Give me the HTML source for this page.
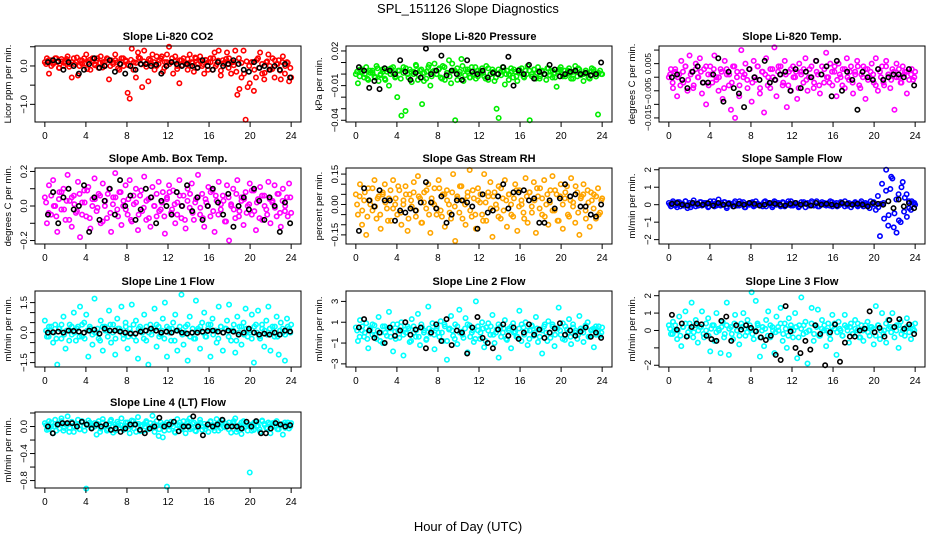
<!DOCTYPE html>
<html><head><meta charset="utf-8">
<style>
html,body{margin:0;padding:0;background:#fff;}
svg{display:block;font-family:"Liberation Sans",Arial,sans-serif;}
</style></head>
<body>
<svg id="c" width="936" height="540">
<text x="468" y="13" text-anchor="middle" font-size="13">SPL_151126  Slope Diagnostics</text>
<text x="468" y="531" text-anchor="middle" font-size="13">Hour of Day (UTC)</text>
</svg>
<script>
const xTicks = [0,4,8,12,16,20,24];
const titles = ["Slope Li-820 CO2","Slope Li-820 Pressure","Slope Li-820 Temp.","Slope Amb. Box Temp.","Slope Gas Stream RH","Slope Sample Flow","Slope Line 1 Flow","Slope Line 2 Flow","Slope Line 3 Flow","Slope Line 4 (LT) Flow"];
const yTitles = ["Licor ppm per min.","kPa per min.","degrees C per min.","degrees C per min.","percent per min.","ml/min per min.","ml/min per min.","ml/min per min.","ml/min per min.","ml/min per min."];
const colors = ["#ff0000","#00ee00","#ff00ff","#ff00ff","#ffa500","#0000ff","#00ffff","#00ffff","#00ffff","#00ffff"];
const yDomains = [[-1.46,0.52],[-0.0415,0.0243],[-0.0165,0.0115],[-0.22,0.22],[-0.195,0.18],[-2.25,2.1],[-1.72,2.08],[-3.3,4.0],[-2.1,2.27],[-0.91,0.215]];
const yTickVals = [[-1.5,-1,-0.5,0,0.5],[-0.04,-0.03,-0.02,-0.01,0,0.01,0.02],[-0.015,-0.01,-0.005,0,0.005,0.01],[-0.2,-0.1,0,0.1,0.2],[-0.15,-0.1,-0.05,0,0.05,0.1,0.15],[-2,-1,0,1,2],[-1.5,-1,-0.5,0,0.5,1,1.5],[-3,-1,1,3],[-2,-1,0,1,2],[-0.8,-0.6,-0.4,-0.2,0,0.2]];
const yTickLabels = [["","−1.0","","0.0",""],["−0.04","","","−0.01","","","0.02"],["−0.015","","−0.005","","0.005",""],["−0.2","","0.0","","0.2"],["−0.15","","","0.00","","","0.15"],["−2","−1","0","1","2"],["−1.5","","","0.0","","","1.5"],["−3","−1","1","3"],["−2","","0","1","2"],["−0.8","","−0.4","","0.0",""]];

const co2 = [0.1,0.2,-0.2,0.15,0.05,0.2,0.1,-0.05,0.18,0.0,0.12,0.25,0.05,-0.3,0.2,0.1,-0.25,0.15,0.05,0.2,0.3,0.1,-0.1,0.2,0.05,0.15,-0.05,0.25,0.1,0.0,0.2,-0.35,0.15,0.05,0.3,0.1,-0.1,0.2,0.0,0.15,-0.7,-0.85,0.45,0.1,-0.3,0.35,0.2,-0.55,0.4,0.05,-0.4,0.15,0.3,-0.1,0.25,0.05,0.2,-0.15,0.1,0.3,0.5,0.1,-0.2,0.25,0.0,-0.45,0.15,0.2,0.05,-0.1,0.3,0.1,-0.15,0.2,0.05,0.25,0.0,-0.2,0.15,0.1,0.2,-0.1,0.35,0.05,0.4,-0.25,0.15,0.1,0.35,0.2,-0.2,0.1,0.4,-0.75,-0.6,-0.3,0.4,-1.4,-0.55,-0.45,0.1,-0.65,-0.3,0.2,0.35,-0.2,-0.35,0.1,0.3,-0.1,0.2,-0.3,0.05,0.15,-0.35,0.25,-0.2,0.1,-0.4,-0.3];
const co2Band = [0.05,0.15,0.0,0.1,0.2,-0.05,0.12,0.08,0.18,-0.02,0.1,0.05,0.22,0.0,0.14,0.06,-0.08,0.16,0.1,0.02,0.2,0.08,-0.04,0.12,0.18,0.0,0.1,0.15,-0.06,0.05,0.2,0.12,0.02,0.16,-0.1,0.08,0.22,0.04,0.12,-0.02,0.18,0.06,0.1,0.0,0.15,0.25,-0.05,0.1,0.05,0.2,0.12,-0.08,0.15,0.02,0.1,0.18,0.0,0.08,0.22,-0.04,0.12,0.05,0.16,-0.1,0.1,0.2,0.0,0.14,-0.12,0.06,0.18,-0.05,0.1,0.02,-0.15,0.2,0.08,-0.2,0.12,0.0,0.1,-0.1,0.16,-0.05,0.05,-0.18,0.12,0.0,-0.08,0.15,0.05,-0.12,0.1,0.0,0.08,-0.05];
const co2Black = [0.1,0.15,0.12,-0.1,0.1,0.0,-0.2,-0.1,0.05,0.2,-0.05,0.0,0.15,-0.15,0.05,-0.2,0.0,-0.1,0.05,0.05,0.0,0.03,-0.2,0.0,0.1,0.05,0.0,0.05,0.0,-0.05,0.15,0.0,-0.1,0.1,0.0,0.05,0.15,0.05,-0.1,-0.15,0.1,-0.05,0.0,-0.1,0.0,-0.1,0.05,-0.3];
const pres = [0.0,-0.008,0.004,0.002,-0.003,0.006,-0.005,0.001,0.003,-0.002,0.007,-0.006,0.0,0.004,-0.004,0.002,-0.01,0.005,0.001,-0.003,-0.02,0.003,-0.036,0.006,-0.032,0.0,0.004,-0.007,0.002,0.008,-0.005,0.003,-0.026,0.001,-0.004,0.006,-0.01,0.002,0.009,0.0,0.004,-0.003,0.007,-0.005,0.001,0.012,-0.008,0.003,-0.04,0.005,0.0,0.013,-0.006,0.004,0.002,-0.003,0.006,0.0,-0.004,0.003,0.001,0.005,-0.002,0.007,-0.005,0.0,0.004,-0.006,-0.03,-0.038,0.002,0.006,-0.009,0.003,0.0,0.005,-0.003,0.002,-0.006,0.004,0.001,-0.002,0.003,0.007,-0.04,0.0,0.004,-0.004,0.006,-0.002,0.003,0.0,-0.005,0.005,0.002,-0.003,0.001,-0.011,0.004,0.006,-0.002,0.003,0.0,0.005,-0.004,0.002,0.007,-0.002,0.004,0.0,-0.006,0.003,0.001,-0.004,0.005,0.002,-0.002,-0.035,0.003,0.0];
const presBand = [0.002,-0.002,0.004,0.0,-0.004,0.003,0.001,-0.003,0.005,-0.001,0.002,-0.005,0.004,0.0,0.006,-0.002,0.003,-0.004,0.001,0.005,-0.003,0.002,0.0,0.007,-0.001,0.004,-0.006,0.002,0.008,-0.002,0.003,0.0,0.005,-0.004,0.006,0.001,-0.002,0.009,0.003,-0.005,0.002,0.007,-0.001,0.004,-0.003,0.0,0.006,-0.002,0.003,0.001,-0.004,0.005,0.0,0.002,-0.003,0.004,-0.001,0.003,0.0,-0.005,0.002,0.004,-0.002,0.001,0.005,-0.003,0.0,0.003,-0.002,0.004,0.001,-0.004,0.002,0.0,0.005,-0.001,0.003,-0.003,0.002,0.004,0.0,-0.002,0.003,0.001,-0.004,0.002,0.005,-0.001,0.0,0.003,-0.003,0.002,0.004,-0.002,0.001,0.0];
const presBlack = [0.006,0.003,-0.012,-0.006,-0.013,0.005,0.003,0.0,0.012,0.002,-0.005,0.001,-0.003,0.022,0.0,0.003,0.016,-0.001,0.003,0.0,-0.005,0.012,0.002,0.0,0.003,-0.003,0.001,0.0,0.006,0.015,-0.01,0.003,0.0,0.008,-0.004,0.002,0.0,0.008,0.004,-0.002,0.0,0.002,0.003,0.0,0.001,-0.001,0.0,0.01];
const temp = [0.0,0.003,-0.004,0.002,-0.007,0.001,0.006,-0.002,0.004,-0.005,0.008,0.002,-0.003,0.005,0.0,0.007,-0.006,0.003,-0.01,0.001,0.004,-0.002,0.008,0.0,-0.005,0.003,-0.008,0.006,0.001,-0.003,-0.012,0.004,-0.015,0.002,-0.007,0.01,0.0,0.005,-0.004,0.003,-0.009,0.006,-0.001,0.004,-0.006,0.002,-0.013,0.007,0.0,-0.004,0.003,0.011,-0.007,0.004,0.001,-0.003,0.006,-0.011,0.002,-0.005,0.004,0.0,-0.008,0.005,0.002,-0.002,0.007,-0.005,0.003,0.0,-0.004,0.006,0.001,-0.006,0.004,-0.002,0.009,0.0,0.005,-0.003,0.002,-0.007,0.005,0.0,0.003,-0.004,0.007,-0.001,0.004,-0.006,0.002,0.006,-0.003,0.001,0.004,-0.008,0.003,0.0,0.005,-0.002,0.007,-0.005,0.002,0.004,-0.003,0.006,0.001,-0.004,0.003,-0.012,0.005,0.0,-0.002,0.004,0.002,-0.006,0.003,0.001,-0.001,0.002];
const tempBand = [0.001,-0.002,0.003,0.0,-0.003,0.002,0.004,-0.001,0.001,-0.004,0.003,0.0,0.002,-0.002,0.004,-0.003,0.001,0.003,-0.001,0.0,0.002,-0.004,0.003,0.001,-0.002,0.004,0.0,-0.003,0.002,0.001,-0.001,0.003,-0.002,0.0,0.004,-0.004,0.002,0.001,-0.003,0.003,0.0,-0.001,0.002,0.004,-0.002,0.001,-0.003,0.003,0.0,0.002,-0.004,0.001,0.003,-0.001,0.0,0.004,-0.002,0.002,-0.003,0.001,0.003,0.0,-0.002,0.002,0.004,-0.001,0.001,-0.003,0.003,0.0,0.002,-0.002,0.001,0.004,-0.004,0.0,0.003,-0.001,0.002,0.001,-0.003,0.003,0.0,-0.002,0.004,0.001,-0.001,0.002,0.0,0.003,-0.002,0.001,0.002,-0.001,0.003,0.0];
const tempBlack = [0.0,0.001,-0.001,-0.004,0.002,0.004,-0.002,-0.002,0.001,0.007,-0.009,0.002,-0.004,-0.006,-0.011,0.003,0.0,-0.001,0.006,-0.002,-0.001,0.001,0.002,-0.005,0.003,-0.004,0.002,0.0,0.006,0.001,0.004,-0.007,0.006,-0.005,0.002,-0.001,-0.012,0.002,0.0,-0.001,0.003,-0.001,0.0,0.001,0.001,0.0,0.003,-0.003];
const amb = [0.05,-0.1,0.12,-0.05,0.15,0.0,-0.15,0.08,-0.02,0.1,-0.08,0.18,0.03,-0.12,0.06,-0.04,0.14,-0.18,0.02,0.09,-0.06,0.11,-0.13,0.04,0.16,-0.03,0.07,-0.1,0.13,0.0,-0.07,0.1,-0.15,0.05,0.19,-0.02,0.08,-0.11,0.03,0.12,-0.05,0.15,-0.09,0.01,0.1,-0.14,0.06,-0.03,0.17,-0.08,0.04,-0.12,0.11,0.0,-0.06,0.14,-0.02,0.08,-0.16,0.05,0.12,-0.04,0.09,-0.1,0.02,0.15,-0.07,0.06,-0.13,0.1,-0.01,0.13,-0.08,0.04,0.18,-0.05,0.07,-0.12,0.02,0.11,-0.06,0.09,-0.15,0.03,0.14,-0.02,0.06,-0.09,0.12,-0.2,0.01,0.1,-0.07,0.15,-0.03,0.05,-0.11,0.08,0.0,0.13,-0.05,0.09,-0.14,0.04,0.11,-0.08,0.06,-0.02,0.14,-0.1,0.03,0.12,-0.06,0.07,-0.12,0.1,-0.03,0.05,0.13,-0.04];
const ambBand = [0.02,-0.04,0.06,0.0,-0.06,0.04,0.08,-0.02,0.03,-0.08,0.05,0.01,-0.03,0.07,-0.05,0.02,0.09,-0.07,0.0,0.04,-0.01,0.06,-0.09,0.03,0.07,-0.04,0.01,0.05,-0.06,0.08,0.0,-0.02,0.04,-0.08,0.06,0.02,-0.05,0.09,-0.01,0.03,-0.07,0.05,0.0,0.07,-0.03,0.02,-0.06,0.04,0.08,-0.02,0.01,-0.05,0.06,0.0,-0.08,0.03,0.07,-0.04,0.02,0.05,-0.01,-0.07,0.04,0.0,0.08,-0.03,0.06,-0.05,0.01,0.03,-0.09,0.05,0.0,-0.02,0.07,-0.06,0.03,0.04,-0.04,0.01,0.09,-0.03,0.02,-0.07,0.06,0.0,-0.05,0.04,0.02,-0.01,0.07,-0.04,0.03,0.0,-0.06,0.05];
const ambBlack = [-0.05,0.08,-0.1,0.05,0.1,-0.02,0.0,0.12,-0.15,0.05,-0.08,0.03,0.1,-0.05,0.15,0.0,0.06,-0.08,-0.02,0.1,0.05,-0.1,0.03,0.0,-0.05,0.08,0.0,0.12,-0.03,0.05,-0.08,0.0,0.1,0.02,-0.05,0.07,-0.12,0.0,0.05,-0.02,0.1,0.03,-0.08,0.05,0.0,-0.15,0.02,-0.1];
const rh = [0.05,-0.05,0.1,-0.1,0.02,-0.15,0.08,0.0,-0.03,0.12,-0.07,0.04,-0.12,0.06,0.1,-0.02,0.03,-0.08,0.12,0.0,-0.05,0.07,-0.1,0.02,0.09,-0.13,0.05,-0.01,0.11,-0.06,0.14,0.03,-0.09,0.06,-0.02,0.1,-0.14,0.01,0.08,-0.05,0.12,-0.03,0.05,-0.11,0.07,0.0,-0.07,0.15,-0.18,0.04,-0.04,0.09,0.02,-0.1,0.06,0.17,-0.06,0.03,-0.12,0.08,0.01,-0.05,0.15,-0.08,0.04,0.11,-0.16,0.06,-0.02,0.09,-0.07,0.03,0.12,-0.11,0.05,0.0,-0.06,0.1,-0.13,0.07,0.02,-0.04,0.13,-0.09,0.06,-0.01,0.11,-0.14,0.04,0.08,-0.05,0.12,0.0,-0.1,0.07,0.14,-0.03,0.05,-0.08,0.1,-0.12,0.03,0.09,-0.06,0.13,0.01,-0.09,0.06,-0.15,0.04,0.1,-0.03,0.07,-0.11,0.02,0.05,-0.07,0.08,-0.04,0.03];
const rhBand = [0.0,0.04,-0.03,0.06,-0.06,0.02,0.08,-0.01,0.03,-0.05,0.05,0.01,-0.08,0.07,-0.02,0.03,0.09,-0.04,0.0,0.05,-0.07,0.02,0.06,-0.03,0.04,-0.09,0.01,0.07,-0.05,0.03,0.0,-0.02,0.08,-0.06,0.05,0.02,-0.04,0.06,-0.01,0.03,0.09,-0.07,0.0,0.04,-0.03,0.07,-0.05,0.02,0.05,-0.08,0.01,0.06,-0.02,0.04,0.0,-0.06,0.08,-0.03,0.02,0.05,-0.05,0.03,0.07,-0.01,0.0,-0.07,0.04,0.06,-0.04,0.02,0.08,-0.02,0.03,-0.06,0.05,0.01,-0.03,0.07,-0.08,0.04,0.0,0.06,-0.05,0.02,-0.01,0.09,-0.04,0.03,0.05,-0.07,0.01,0.06,-0.02,0.04,-0.05,0.02];
const rhBlack = [-0.13,0.08,0.02,-0.01,0.07,0.02,0.02,-0.08,-0.03,-0.04,-0.02,-0.03,0.01,0.11,0.01,-0.02,0.04,-0.09,-0.05,0.02,0.02,0.01,-0.01,-0.12,0.05,-0.04,-0.03,0.04,0.1,-0.02,0.06,0.06,0.07,0.02,0.03,-0.09,-0.09,0.02,-0.02,0.03,0.1,0.04,0.05,-0.01,-0.01,-0.05,-0.06,0.0];
const flow = [0.1,-0.1,0.2,0.0,-0.15,0.15,0.05,-0.05,0.2,-0.2,0.1,0.0,0.25,-0.1,0.05,0.15,-0.05,0.1,0.0,-0.15,0.2,0.05,-0.1,0.1,0.3,-0.05,0.0,0.15,-0.2,0.1,0.05,-0.1,0.2,0.0,-0.05,0.1,0.15,-0.15,0.05,0.0,0.1,-0.1,0.2,0.05,-0.05,0.0,0.15,-0.1,0.1,0.05,-0.15,0.2,0.0,0.1,-0.05,0.15,-0.1,0.05,0.0,0.2,-0.05,0.1,0.0,-0.1,0.15,0.05,-0.15,0.1,0.0,0.2,-0.05,0.1,-0.1,0.05,0.15,0.0,-0.05,0.1,0.2,-0.1,0.0,0.1,-0.05,0.15,0.05,-0.1,0.0,0.1,-0.15,0.05,0.1,-0.05,0.0,0.2,-0.1,0.1,0.05,-0.2,0.0,0.15,-0.3,0.5,-1.8,1.2,-0.8,2.0,-1.2,0.9,1.5,-0.5,-1.6,0.6,-1.0,1.3,0.4,-0.7,0.2,-0.3,0.1,0.0];
const flowBand = [0.0,0.1,-0.05,0.15,-0.1,0.05,0.2,0.0,-0.15,0.1,0.05,-0.05,0.15,0.0,0.1,-0.1,0.05,0.2,-0.05,0.0,0.1,0.15,-0.1,0.05,0.0,0.1,-0.05,0.2,0.05,-0.15,0.0,0.1,0.15,-0.05,0.05,0.0,-0.1,0.2,0.1,0.0,-0.05,0.15,0.05,-0.1,0.1,0.0,0.2,-0.05,0.05,0.1,-0.15,0.0,0.15,0.05,-0.05,0.1,0.0,0.2,-0.1,0.05,0.1,0.0,-0.05,0.15,0.05,-0.1,0.0,0.1,0.2,-0.05,0.05,0.0,0.15,-0.1,0.1,0.05,0.0,-0.05,0.2,0.1,0.0,-0.15,0.05,0.1,0.8,-0.6,1.6,-1.3,0.3,-0.9,1.0,-0.4,0.6,-0.2,0.2,0.1];
const flowBlack = [0.05,0.1,0.0,-0.05,0.1,0.05,0.0,0.08,-0.05,0.1,0.0,0.05,-0.1,0.05,0.0,0.1,0.05,-0.05,0.0,0.1,0.05,0.0,-0.05,0.05,0.1,0.0,0.05,-0.05,0.1,0.0,0.05,0.0,-0.05,0.1,0.05,0.0,0.05,0.0,-0.1,0.1,0.05,0.0,0.2,-0.2,0.3,-0.1,0.1,-0.2];
const line1 = [0.6,-0.2,0.3,0.1,-0.5,0.4,-1.6,0.2,-0.3,0.8,-0.8,0.1,0.4,-0.1,1.0,-0.4,0.3,1.3,-0.2,0.5,0.9,-1.2,0.2,-0.6,1.7,0.0,-0.3,0.6,-0.9,0.3,0.1,1.1,-0.5,0.4,-1.1,0.7,0.2,1.3,-0.3,0.5,-0.8,0.2,1.4,-0.2,0.6,-1.3,0.3,0.0,0.9,-0.4,-1.6,0.4,0.1,1.2,-0.7,0.3,-0.1,0.7,1.5,-1.2,0.2,-0.4,0.5,0.9,-0.9,0.1,1.9,-0.6,0.3,-1.4,0.8,0.0,-0.3,1.6,0.2,-0.8,0.5,1.0,-0.2,0.4,-1.2,0.7,0.1,-0.5,1.3,0.3,-0.9,0.2,0.6,1.4,-0.4,0.1,-1.0,0.8,0.3,-0.6,0.5,1.2,-0.2,0.0,0.9,-1.5,0.4,1.1,-0.3,0.2,-0.7,0.6,1.3,-0.9,0.3,-0.2,0.8,-1.1,0.5,0.0,-1.4,0.7,0.2,0.4];
const line1Band = [0.1,-0.2,0.3,0.0,-0.3,0.2,0.4,-0.1,0.1,-0.4,0.3,0.0,0.2,-0.2,0.4,-0.3,0.1,0.3,-0.1,0.0,0.2,-0.4,0.3,0.1,-0.2,0.4,0.0,-0.3,0.2,0.1,-0.1,0.3,-0.2,0.0,0.4,-0.4,0.2,0.1,-0.3,0.3,0.0,-0.1,0.2,0.4,-0.2,0.1,-0.3,0.3,0.0,0.2,-0.4,0.1,0.3,-0.1,0.0,0.4,-0.2,0.2,-0.3,0.1,0.3,0.0,-0.2,0.2,0.4,-0.1,0.1,-0.3,0.3,0.0,0.2,-0.2,0.1,0.4,-0.4,0.0,0.3,-0.1,0.2,0.1,-0.3,0.3,0.0,-0.2,0.4,0.1,-0.1,0.2,0.0,0.3,-0.2,0.1,0.2,-0.1,0.3,0.0];
const line1Black = [0.0,0.02,0.05,0.0,0.1,0.08,0.05,0.0,0.1,0.15,-0.05,0.2,0.1,0.1,0.05,0.0,-0.05,-0.05,0.05,0.1,0.2,0.1,0.0,0.05,0.0,0.1,0.0,-0.05,0.0,0.0,0.05,0.08,0.1,0.05,0.0,0.1,0.05,-0.1,0.0,0.2,0.0,-0.1,-0.05,-0.1,0.0,-0.1,0.1,0.05];
const line2 = [0.5,-0.8,1.2,0.2,-0.4,0.9,-1.5,0.3,-0.2,0.7,-0.6,1.5,0.0,-1.0,0.6,-0.3,2.0,0.4,-1.8,0.1,0.8,-0.5,1.0,-2.2,0.3,0.6,-0.9,1.3,0.0,-0.4,1.8,-1.2,0.5,0.2,-0.7,2.5,-0.1,0.9,-1.6,0.4,0.0,1.1,-0.8,0.6,-2.6,0.3,1.6,-0.3,0.8,-1.1,2.2,0.1,-0.5,1.4,-1.9,0.7,0.0,-0.9,3.0,0.2,-0.6,1.0,-1.4,0.5,0.9,-0.2,1.7,-1.0,0.3,-2.4,0.6,0.0,1.2,-0.7,0.4,-1.5,0.9,0.1,-0.4,2.1,-0.8,0.5,1.0,-1.2,0.2,0.7,-0.3,1.5,-0.9,0.3,-2.0,0.6,0.0,1.1,-0.5,0.8,-1.3,0.4,2.4,-0.2,0.9,-0.7,0.3,1.3,-1.1,0.5,0.0,-0.6,1.6,0.2,-0.9,0.7,1.0,-0.4,0.3,-1.4,0.6,0.1,-0.3,0.5];
const line2Band = [0.2,-0.4,0.6,0.0,-0.6,0.4,0.8,-0.2,0.2,-0.8,0.6,0.0,0.4,-0.4,0.8,-0.6,0.2,0.6,-0.2,0.0,0.4,-0.8,0.6,0.2,-0.4,0.8,0.0,-0.6,0.4,0.2,-0.2,0.6,-0.4,0.0,0.8,-0.8,0.4,0.2,-0.6,0.6,0.0,-0.2,0.4,0.8,-0.4,0.2,-0.6,0.6,0.0,0.4,-0.8,0.2,0.6,-0.2,0.0,0.8,-0.4,0.4,-0.6,0.2,0.6,0.0,-0.4,0.4,0.8,-0.2,0.2,-0.6,0.6,0.0,0.4,-0.4,0.2,0.8,-0.8,0.0,0.6,-0.2,0.4,0.2,-0.6,0.6,0.0,-0.4,0.8,0.2,-0.2,0.4,0.0,0.6,-0.4,0.2,0.4,-0.2,0.6,0.0];
const line2Black = [0.5,1.3,0.2,-0.5,0.0,-1.0,0.5,-0.3,0.2,1.0,-0.2,0.3,0.5,-1.5,0.0,0.8,-0.8,1.3,-1.2,0.2,0.0,-2.0,0.5,1.5,-0.5,-1.0,-1.5,0.3,0.8,-0.3,0.5,-0.6,0.0,0.8,-0.2,0.3,-0.5,0.0,0.4,0.9,-0.2,0.2,-0.3,0.1,0.5,-0.4,0.0,-0.5];
const line3 = [0.3,-0.2,0.5,0.0,-0.5,0.8,-0.9,0.2,1.1,-0.3,0.4,1.6,-0.1,0.6,-0.7,0.2,1.1,-0.4,0.0,0.7,-1.2,0.3,-0.6,1.0,0.1,-1.3,0.5,-0.2,1.6,-1.4,0.2,-0.5,0.9,0.0,-0.8,0.4,1.0,-0.3,0.6,0.1,2.2,-0.5,1.7,0.3,-1.5,0.0,-0.9,0.6,1.1,-0.4,0.2,-1.3,0.8,0.0,1.3,-0.6,0.4,-1.0,0.7,0.1,-0.4,1.0,-1.6,0.3,1.9,-0.2,0.5,-1.9,0.0,1.3,-0.6,0.3,1.2,-0.3,0.6,0.0,-0.9,0.4,-0.5,0.9,0.1,-1.4,0.5,0.0,-0.3,0.9,0.2,-0.7,0.4,-0.2,0.6,0.0,-0.4,0.3,-0.6,0.1,0.5,-0.3,0.2,-0.8,1.4,0.3,-0.5,1.0,0.0,-0.7,0.6,0.2,1.0,-0.4,0.3,-1.0,0.5,0.0,-0.3,0.7,0.2,-0.5,0.1,0.4];
const line3Band = [0.1,-0.2,0.3,0.0,-0.3,0.2,0.4,-0.1,0.1,-0.4,0.3,0.0,0.2,-0.2,0.4,-0.3,0.1,0.3,-0.1,0.0,0.2,-0.4,0.3,0.1,-0.2,0.4,0.0,-0.3,0.2,0.1,-0.1,0.3,-0.2,0.0,0.4,-0.4,0.2,0.1,-0.3,0.3,0.0,-0.1,0.2,0.4,-0.2,0.1,-0.3,0.3,0.0,0.2,-0.4,0.1,0.3,-0.1,0.0,0.4,-0.2,0.2,-0.3,0.1,0.3,0.0,-0.2,0.2,0.4,-0.1,0.1,-0.3,0.3,0.0,0.2,-0.2,0.1,0.4,-0.4,0.0,0.3,-0.1,0.2,0.1,-0.3,0.3,0.0,-0.2,0.4,0.1,-0.1,0.2,0.0,0.3,-0.2,0.1,0.2,-0.1,0.3,0.0];
const line3Black = [0.9,0.05,0.4,-0.35,0.2,0.4,0.35,-0.3,-0.5,-0.6,0.55,0.8,-0.6,0.3,0.05,0.3,0.15,-0.05,-0.4,-0.55,-0.3,-1.4,-1.7,1.4,-0.05,-1.0,-1.3,-0.6,-1.1,0.3,-0.2,-2.0,-0.1,0.35,-1.8,-0.7,-0.35,-0.35,0.0,0.1,1.1,-0.1,0.15,-0.35,0.6,0.2,0.65,0.1,0.35,-0.2];
const line4 = [0.05,-0.05,0.08,0.0,-0.1,0.1,0.02,-0.03,0.12,-0.06,0.04,0.15,-0.02,0.07,-0.08,0.03,0.1,-0.04,0.06,0.0,-0.92,0.09,0.02,0.02,0.05,-0.12,0.08,-0.03,0.11,0.0,-0.06,0.04,0.1,-0.09,0.03,0.07,-0.02,0.12,-0.05,0.01,0.06,-0.1,0.09,-0.03,0.04,0.14,-0.07,0.02,0.04,0.08,-0.04,0.05,0.16,-0.08,0.01,-0.14,0.06,-0.16,0.03,-0.89,-0.05,0.07,0.0,-0.09,0.11,0.02,-0.04,0.08,-0.1,0.05,0.12,-0.02,0.06,-0.07,0.03,0.1,-0.05,0.04,0.0,-0.08,0.07,0.02,-0.06,0.11,0.04,-0.03,0.09,-0.01,0.01,0.06,-0.09,0.05,0.12,-0.04,0.02,-0.11,0.08,0.0,-0.06,-0.68,0.03,-0.05,0.07,0.01,-0.08,0.09,0.04,-0.02,0.06,-0.1,0.05,0.0,0.08,-0.04,0.03,-0.12,0.06,0.02,-0.03,0.05];
const line4Band = [0.02,-0.04,0.06,0.0,-0.06,0.04,0.08,-0.02,0.02,-0.08,0.06,0.0,0.04,-0.04,0.08,-0.06,0.02,0.06,-0.02,0.0,0.04,-0.08,0.06,0.02,-0.04,0.08,0.0,-0.06,0.04,0.02,-0.02,0.06,-0.04,0.0,0.08,-0.08,0.04,0.02,-0.06,0.06,0.0,-0.02,0.04,0.08,-0.04,0.02,-0.06,0.06,0.0,0.04,-0.08,0.02,0.06,-0.02,0.0,0.08,-0.04,0.04,-0.06,0.02,0.06,0.0,-0.04,0.04,0.08,-0.02,0.02,-0.06,0.06,0.0,0.04,-0.04,0.02,0.08,-0.08,0.0,0.06,-0.02,0.04,0.02,-0.06,0.06,0.0,-0.04,0.08,0.02,-0.02,0.04,0.0,0.06,-0.04,0.02,0.04,-0.02,0.06,0.0];
const line4Black = [0.0,-0.1,0.03,0.05,0.05,0.05,0.0,0.07,0.03,-0.03,0.03,0.0,0.03,-0.05,-0.03,-0.08,-0.03,0.03,0.03,-0.05,-0.1,-0.03,0.0,0.13,0.0,0.03,0.07,-0.07,0.0,0.0,0.15,0.0,-0.13,0.03,0.0,0.03,0.1,0.0,0.0,0.0,-0.03,0.07,0.0,0.08,-0.1,-0.1,-0.03,0.05,0.03,0.0,0.02];

const colorSeries = [co2,pres,temp,amb,rh,flow,line1,line2,line3,line4];
const bandSeries = [co2Band,presBand,tempBand,ambBand,rhBand,flowBand,line1Band,line2Band,line3Band,line4Band];
const blackSeries = [co2Black,presBlack,tempBlack,ambBlack,rhBlack,flowBlack,line1Black,line2Black,line3Black,line4Black];

const NS = "http://www.w3.org/2000/svg";
const svg = document.getElementById('c');
const colLeft = [35,346,659], boxW = 266, rowTop = [46,168,291,412], boxH = 76;
const xDom = [-0.96,24.96];
function mk(tag, attrs, parent){ const e=document.createElementNS(NS,tag); for(const k in attrs) e.setAttribute(k,attrs[k]); (parent||svg).appendChild(e); return e; }

for (let p=0;p<10;p++){
  const L=colLeft[p%3], T=rowTop[Math.floor(p/3)], R=L+boxW, B=T+boxH;
  const yd=yDomains[p];
  const xs=h=>L+(h-xDom[0])/(xDom[1]-xDom[0])*boxW;
  const ys=v=>B-(v-yd[0])/(yd[1]-yd[0])*boxH;
  const g=mk('g',{});
  
  
  const t=mk('text',{x:(L+R)/2,y:T-6,'text-anchor':'middle','font-size':'11','font-weight':'bold'},g);
  t.textContent=titles[p];
  
  
  const yt=mk('text',{x:0,y:0,'text-anchor':'middle','font-size':'9.5',transform:`translate(${L-24},${(T+B)/2}) rotate(-90)`},g);
  yt.textContent=yTitles[p];
  
  
  const cs=colorSeries[p];
  cs.forEach((v,i)=>{
    const h=i*24/(cs.length-1);
    const c=mk('circle',{cx:xs(h),cy:ys(v),r:2.2,fill:'none',stroke:colors[p],'stroke-width':1.6},g);
    
    
  });
  const bd=bandSeries[p];
  bd.forEach((v,i)=>{
    const h=0.12+i*23.8/(bd.length-1);
    const c=mk('circle',{cx:xs(h),cy:ys(v),r:2.2,fill:'none',stroke:colors[p],'stroke-width':1.6},g);
    
    
  });
  const bs=blackSeries[p];
  bs.forEach((v,i)=>{
    const h=0.3+i*23.6/(bs.length-1);
    const c=mk('circle',{cx:xs(h),cy:ys(v),r:2.2,fill:'none',stroke:'#000','stroke-width':1.6},g);
    
    
  });
  const box=mk('rect',{x:L,y:T,width:boxW,height:boxH,fill:'none',stroke:'#000','stroke-width':1},g);
  
  
  xTicks.forEach(h=>{
    const x=xs(h);
    mk('line',{x1:x,x2:x,y1:B,y2:B+5,stroke:'#000'},g);
    const lt=mk('text',{x:x,y:B+17,'text-anchor':'middle','font-size':'10'},g);
    lt.textContent=h;
    
    
  });
  yTickVals[p].forEach((v,i)=>{
    const y=ys(v);
    if(y<T-1||y>B+1) return;
    mk('line',{x1:L-5,x2:L,y1:y,y2:y,stroke:'#000'},g);
    const lab=yTickLabels[p][i];
    if(lab){
      const lt=mk('text',{x:0,y:0,'text-anchor':'middle','font-size':(p===2?'8.5':'9.5'),transform:`translate(${L-8},${y}) rotate(-90)`},g);
      lt.textContent=lab;
      
      
    }
  });
}
</script>
</body></html>
